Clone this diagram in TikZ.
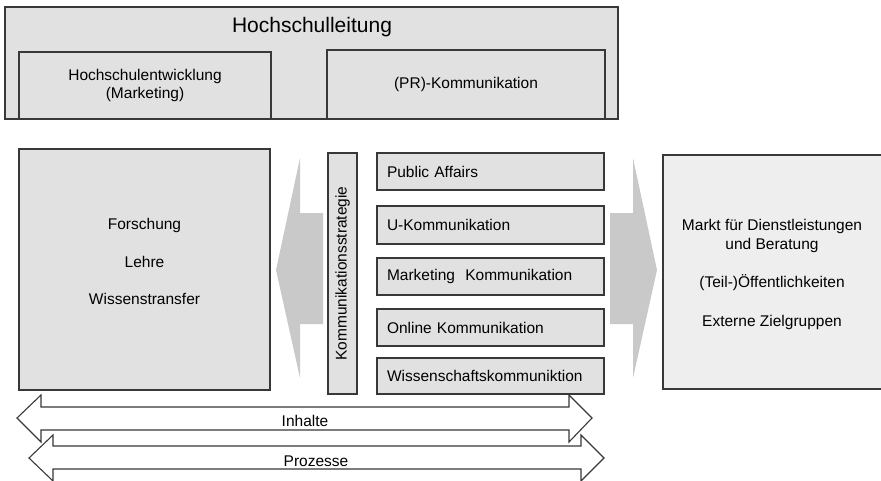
\documentclass[tikz,border=0pt]{standalone}
\usepackage{fontspec}
\setmainfont{Liberation Sans}
\usepackage{xcolor}
\usepackage{tikz}
\usetikzlibrary{positioning}

\definecolor{boxgrey}{HTML}{E1E1E1}
\definecolor{boxlight}{HTML}{EEEEEE}
\definecolor{arrowgrey}{HTML}{C9C9C9}
\definecolor{linegrey}{HTML}{383838}

\tikzset{
  unit/.style={draw=linegrey, fill=boxgrey, line width=1.1pt, inner sep=0pt,
    font=\fontsize{15.5}{18.5}\selectfont},
  channel/.style={unit, minimum width=227, text width=207, align=left},
  txt/.style={inner sep=0pt, align=center, font=\fontsize{15.5}{18.5}\selectfont},
  flow/.style={draw=linegrey, line width=1.1pt, line join=miter},
}

\begin{document}
\begin{tikzpicture}[x=1pt, y=-1pt]
\useasboundingbox (0, 0) rectangle (881, 480);

% Hochschulleitung
\node[unit, minimum width=613, minimum height=112] (hsl) at (311.5, 63) {};
\node[txt, font=\fontsize{21}{25}\selectfont] (hsltitle) at (312, 27) {Hochschulleitung};
\node[unit, minimum width=252, minimum height=67, align=center] (entw) at (145, 85.5) {Hochschulentwicklung\\(Marketing)};
\node[unit, minimum width=278, minimum height=69] (pr) at (466, 84.5) {(PR)-Kommunikation};

% Hochschule
\node[unit, minimum width=251, minimum height=241] (hs) at (144.5, 269.5) {};
\node[txt] (hstext) at (144.5, 261.5) {Forschung\\[19pt]Lehre\\[19pt]Wissenstransfer};

% Pfeile
\fill[arrowgrey] (276, 270) -- (300, 158) -- (300, 213) -- (323, 213) -- (323, 324) -- (300, 324) -- (300, 378) -- cycle;
\fill[arrowgrey] (657, 270) -- (633, 158) -- (633, 213) -- (610, 213) -- (610, 324) -- (633, 324) -- (633, 378) -- cycle;

% Kommunikationsstrategie
\node[unit, rotate=90, minimum width=241, minimum height=29] (strat) at (342.5, 273.5) {Kommunikationsstrategie};

\node[channel, minimum height=37] (pa) at (490.5, 171.5) {Public Affairs};
\node[channel, minimum height=38] (uk) at (490.5, 225) {U-Kommunikation};
\node[channel, minimum height=37] (mk) at (490.5, 276.5) {Marketing\ \ Kommunikation};
\node[channel, minimum height=37] (ok) at (490.5, 327.5) {Online Kommunikation};
\node[channel, minimum height=36] (wk) at (490.5, 376) {Wissenschaftskommuniktion};

% Umwelt
\node[unit, fill=boxlight, minimum width=240, minimum height=234] (markt) at (783, 272) {};
\node[txt] (markttext) at (772, 274.5) {Markt f\"ur Dienstleistungen\\und Beratung\\[19.5pt](Teil-)\"Offentlichkeiten\\[20.5pt]Externe Zielgruppen};

% Inhalte / Prozesse
\draw[flow] (17, 418) -- (41, 395) -- (41, 407) -- (569, 407) -- (569, 395) -- (592, 418) -- (569, 442) -- (569, 430) -- (41, 430) -- (41, 442) -- cycle;
\node[txt] (inhalte) at (305, 421) {Inhalte};

\draw[flow] (29, 458) -- (53, 435) -- (53, 446) -- (581, 446) -- (581, 435) -- (604, 458) -- (581, 481) -- (581, 469) -- (53, 469) -- (53, 481) -- cycle;
\node[txt] (prozesse) at (316, 461) {Prozesse};
\end{tikzpicture}
\end{document}
